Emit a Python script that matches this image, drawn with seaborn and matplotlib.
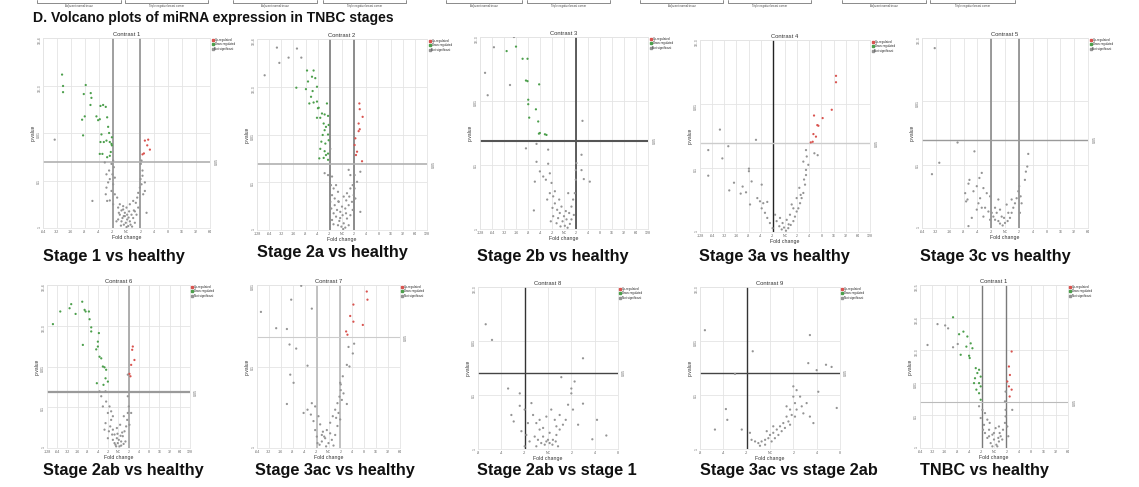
import matplotlib
matplotlib.use("Agg")
import matplotlib.pyplot as plt
from matplotlib.lines import Line2D
import seaborn as sns
import pandas as pd

sns.set_theme(style="white")
plt.rcParams['font.family'] = ['Liberation Sans', 'DejaVu Sans']

# ----- data: (log2-ish fold change position, -log10 p) -----
c1_down = [(-4.63, 3.23), (-4.56, 2.99), (-4.56, 2.86), (-2.93, 3.01), (-3.07, 2.82), (-2.57, 2.84),
           (-2.52, 2.74), (-2.59, 2.59), (-1.87, 2.57), (-1.68, 2.59), (-1.49, 2.55), (-3.0, 2.35),
           (-3.19, 2.28), (-2.16, 2.35), (-1.92, 2.29), (-2.04, 2.27), (-1.39, 2.33), (-1.32, 2.13),
           (-1.8, 1.97), (-1.25, 2.0), (-1.63, 1.81), (-1.87, 1.81), (-1.44, 1.84), (-1.2, 1.81),
           (-1.05, 1.91), (-1.08, 1.77), (-1.05, 1.74), (-1.39, 1.49), (-1.2, 1.52), (-1.13, 1.6),
           (-1.73, 1.56), (-1.92, 1.56), (-3.12, 1.95)]
c1_up = [(1.32, 1.84), (1.56, 1.86), (1.49, 1.74), (1.68, 1.65), (1.15, 1.55), (1.25, 1.57)]
c1_ns = [(-5.16, 1.86), (-0.96, 1.42), (-1.08, 1.35), (-0.91, 1.28), (-1.25, 1.21), (-1.01, 1.13),
         (-0.84, 1.06), (-1.2, 1.03), (-0.96, 0.92), (-1.44, 0.85), (-1.08, 0.78), (-0.84, 0.71),
         (-0.67, 0.64), (-1.2, 0.58), (-1.39, 0.57), (-2.45, 0.57), (-0.48, 0.5), (-0.6, 0.43),
         (-0.24, 0.46), (-0.36, 0.37), (0.0, 0.43), (0.24, 0.5), (0.48, 0.57), (0.67, 0.53),
         (0.77, 0.64), (0.84, 0.74), (0.96, 0.85), (1.08, 0.92), (1.01, 1.03), (1.15, 1.21),
         (1.03, 1.35), (1.08, 1.42), (1.2, 0.71), (1.32, 0.78), (1.44, 0.32), (-0.48, 0.28),
         (-0.29, 0.21), (-0.12, 0.25), (0.05, 0.18), (0.24, 0.14), (0.48, 0.21), (0.36, 0.28),
         (-0.05, 0.11), (0.12, 0.04), (-0.19, 0.07), (-0.36, 0.14), (-0.6, 0.18), (0.19, 0.35),
         (0.53, 0.37), (0.72, 0.28), (-0.12, 0.32), (0.29, 0.07), (0.6, 0.11), (0.05, 0.28),
         (-0.24, 0.39), (-0.72, 0.14), (0.84, 0.43), (-1.44, 1.13), (-1.56, 1.38), (-1.32, 0.96),
         (-1.49, 0.71), (-0.96, 0.5), (1.15, 1.1), (1.32, 0.96), (-0.4, 0.05), (0.0, 0.02),
         (0.4, 0.03), (-0.2, 0.25), (0.15, 0.22), (-0.55, 0.32), (0.6, 0.35)]

c2_down = [(-2.88, 3.34), (-2.34, 3.34), (-2.47, 3.21), (-2.2, 3.18), (-2.8, 3.11), (-2.06, 3.0),
           (-3.76, 2.98), (-2.97, 2.95), (-2.42, 2.91), (-2.55, 2.79), (-2.06, 2.69), (-2.34, 2.67),
           (-2.69, 2.65), (-1.92, 2.56), (-1.24, 2.65), (-1.98, 2.55), (-1.65, 2.44), (-2.06, 2.35),
           (-1.79, 2.35), (-1.43, 2.42), (-1.15, 2.39), (-1.51, 2.23), (-1.32, 2.16), (-1.1, 2.2),
           (-1.43, 2.09), (-1.15, 2.0), (-1.59, 1.99), (-1.7, 1.85), (-1.37, 1.81), (-1.1, 1.88),
           (-1.79, 1.7), (-1.43, 1.65), (-1.15, 1.6), (-1.87, 1.5), (-1.51, 1.51), (-1.15, 1.47),
           (-1.32, 1.57)]
c2_up = [(1.43, 2.65), (1.46, 2.53), (1.7, 2.37), (1.37, 2.23), (1.46, 2.11), (1.37, 2.07),
         (1.1, 1.92), (1.04, 1.78), (1.65, 1.44), (1.24, 1.64), (1.15, 1.57)]
c2_ns = [(-5.36, 3.82), (-3.71, 3.8), (-5.16, 3.5), (-4.4, 3.61), (-3.35, 3.61), (-6.37, 3.24),
         (-1.43, 1.19), (-1.15, 1.15), (-0.82, 1.12), (0.55, 1.26), (0.69, 1.15), (1.04, 1.15),
         (1.51, 1.22), (-0.91, 0.94), (-0.69, 0.87), (-0.49, 0.94), (-0.33, 0.8), (-0.82, 0.73),
         (-0.6, 0.66), (-0.27, 0.59), (0.14, 0.7), (0.41, 0.77), (0.69, 0.87), (0.88, 0.94),
         (0.96, 0.73), (0.82, 0.59), (0.55, 0.52), (0.27, 0.45), (0.0, 0.49), (-0.41, 0.42),
         (-0.69, 0.35), (-0.82, 0.21), (-0.49, 0.28), (-0.22, 0.19), (0.14, 0.14), (0.41, 0.24),
         (0.69, 0.31), (0.88, 0.42), (-0.05, 0.07), (0.27, 0.05), (-0.33, 0.1), (0.55, 0.1),
         (0.05, 0.31), (-0.14, 0.38), (0.33, 0.35), (0.6, 0.7), (-0.6, 0.52), (-0.96, 0.59),
         (-0.88, 0.45), (1.51, 0.38), (-0.96, 1.7), (-0.99, 1.43), (1.04, 0.87), (1.1, 0.66),
         (1.24, 1.01), (-0.7, 0.12), (0.1, 0.02), (-0.3, 0.6), (0.35, 0.62), (-0.15, 0.25)]

c3_down = [(-4.78, 2.78), (-4.0, 2.85), (-3.45, 2.66), (-3.04, 2.66), (-3.17, 2.32), (-3.04, 2.31),
           (-2.07, 2.26), (-2.98, 2.02), (-2.98, 1.95), (-2.34, 1.87), (-2.9, 1.74), (-2.15, 1.68),
           (-2.09, 1.49), (-2.01, 1.5), (-1.59, 1.48), (-1.46, 1.47)]
c3_up = []
c3_ns = [(-6.58, 2.44), (-5.84, 2.84), (-6.36, 2.09), (-4.5, 2.25), (-4.17, 3.0), (1.54, 1.69),
         (-3.17, 1.26), (-2.29, 1.33), (-1.32, 1.24), (-1.32, 1.02), (-2.01, 0.9), (-2.43, 0.74),
         (-2.29, 1.05), (-1.73, 0.82), (-1.51, 0.77), (-1.18, 0.87), (-1.04, 0.72), (-1.18, 0.56),
         (-1.4, 0.46), (-0.9, 0.51), (-0.76, 0.4), (-0.96, 0.33), (-0.57, 0.3), (-0.35, 0.25),
         (-0.21, 0.35), (0.0, 0.2), (0.21, 0.15), (0.43, 0.25), (0.62, 0.35), (0.76, 0.46),
         (0.9, 0.56), (0.98, 0.77), (0.98, 0.92), (1.04, 1.03), (1.46, 1.16), (1.46, 0.92),
         (1.65, 0.78), (2.15, 0.74), (0.35, 0.56), (-0.62, 0.09), (-0.29, 0.04), (0.07, 0.05),
         (-0.12, 0.12), (0.49, 0.08), (-0.49, 0.17), (-0.9, 0.2), (-2.51, 0.29), (0.62, 0.15),
         (0.82, 0.22), (0.15, 0.28), (-0.4, 0.46), (-0.76, 0.59), (-1.1, 0.12), (0.3, 0.02)]

c4_down = []
c4_up = [(2.39, 1.82), (3.1, 1.78), (2.66, 1.67), (2.75, 1.66), (2.34, 1.53), (2.55, 1.49),
         (2.12, 1.4), (2.28, 1.41), (4.2, 2.44), (4.2, 2.34), (3.85, 1.91)]
c4_ns = [(-5.36, 1.6), (-2.39, 1.44), (-6.32, 1.28), (-4.67, 1.34), (-5.16, 1.15), (-6.32, 0.88),
         (-2.97, 0.99), (-2.97, 0.95), (-4.2, 0.77), (-2.75, 0.79), (-4.59, 0.65), (-3.49, 0.71),
         (-3.65, 0.6), (-3.21, 0.62), (-2.88, 0.43), (-1.92, 0.74), (-2.28, 0.53), (-2.06, 0.48),
         (-1.79, 0.45), (-1.46, 0.47), (-1.92, 0.37), (-1.65, 0.3), (-1.46, 0.22), (-1.24, 0.14),
         (-1.02, 0.06), (-0.82, 0.27), (-0.69, 0.17), (-0.47, 0.09), (-0.27, 0.04), (-0.08, 0.07),
         (0.08, 0.02), (0.27, 0.06), (0.47, 0.11), (0.69, 0.17), (0.82, 0.24), (0.96, 0.32),
         (1.1, 0.37), (1.24, 0.45), (1.37, 0.53), (1.51, 0.61), (1.65, 0.74), (1.57, 0.82),
         (1.73, 0.89), (1.73, 0.97), (1.51, 1.1), (1.79, 1.18), (1.92, 1.05), (1.73, 1.28),
         (2.42, 1.23), (2.69, 1.2), (1.18, 0.69), (0.69, 0.37), (0.41, 0.27), (0.14, 0.19),
         (-0.41, 0.22), (0.96, 0.53), (1.29, 0.58), (0.55, 0.43), (0.3, 0.12), (-0.2, 0.14)]

c5_down = []
c5_up = []
c5_ns = [(-5.08, 2.84), (-3.43, 1.35), (-2.21, 1.21), (-4.75, 1.03), (-5.28, 0.85), (1.68, 1.17),
         (1.61, 0.97), (1.51, 0.89), (1.44, 0.76), (-1.68, 0.87), (-1.85, 0.79), (-2.57, 0.76),
         (-2.64, 0.7), (-2.88, 0.55), (-2.71, 0.45), (-2.81, 0.42), (-2.28, 0.58), (-2.04, 0.66),
         (-1.56, 0.63), (-1.32, 0.55), (-1.92, 0.39), (-1.68, 0.32), (-2.04, 0.29), (-1.44, 0.32),
         (-1.2, 0.26), (-0.96, 0.24), (-0.84, 0.18), (-0.72, 0.13), (-0.48, 0.11), (-0.36, 0.07),
         (-0.17, 0.04), (0.0, 0.08), (0.19, 0.11), (0.36, 0.16), (0.48, 0.24), (0.6, 0.32),
         (0.72, 0.39), (0.84, 0.47), (0.96, 0.58), (1.03, 0.66), (1.13, 0.5), (1.2, 0.39),
         (0.24, 0.24), (-0.24, 0.18), (-0.6, 0.24), (-1.08, 0.13), (-1.56, 0.18), (-2.4, 0.16),
         (-2.64, 0.03), (-0.72, 0.32), (0.48, 0.45), (0.12, 0.37), (-0.48, 0.45), (-1.08, 0.5),
         (1.08, 0.24), (-0.36, 0.29), (-0.07, 0.16), (-1.8, 0.47)]

c6_down = [(-6.42, 3.04), (-5.7, 3.35), (-4.79, 3.43), (-4.63, 3.53), (-3.55, 3.59), (-4.2, 3.29),
           (-3.32, 3.39), (-3.22, 3.35), (-2.9, 3.35), (-2.83, 3.16), (-2.67, 2.96), (-2.67, 2.86),
           (-3.49, 2.53), (-1.92, 2.82), (-2.02, 2.61), (-2.02, 2.49), (-2.18, 2.42), (-1.86, 2.24),
           (-1.69, 2.2), (-1.53, 2.0), (-1.37, 1.98), (-1.21, 1.92), (-1.27, 1.71), (-1.04, 1.63),
           (-1.47, 1.55), (-2.12, 1.59)]
c6_up = [(1.4, 2.49), (1.34, 2.41), (1.56, 2.16), (1.24, 2.04), (1.17, 1.76), (1.07, 1.82)]
c6_ns = [(0.91, 1.8), (-1.27, 1.39), (-1.69, 1.27), (-1.21, 1.14), (-0.88, 1.02), (-1.04, 0.86),
         (-1.27, 0.61), (-0.72, 0.69), (-0.81, 0.53), (-0.55, 0.45), (-0.39, 0.33), (-0.16, 0.24),
         (-0.07, 0.12), (0.1, 0.04), (0.26, 0.16), (0.42, 0.29), (0.59, 0.41), (0.75, 0.53),
         (0.85, 0.69), (0.91, 0.86), (1.01, 1.02), (0.91, 1.27), (1.24, 0.86), (1.07, 0.57),
         (-0.39, 0.12), (-0.23, 0.04), (0.26, 0.06), (0.03, 0.2), (-0.55, 0.2), (0.36, 0.38),
         (-0.62, 0.33), (-0.94, 0.41), (-1.37, 0.45), (-1.04, 0.24), (0.68, 0.16), (-0.16, 0.49),
         (0.16, 0.57), (0.52, 0.78), (-0.55, 0.78), (-0.72, 0.9), (-1.53, 1.02), (-1.86, 1.39),
         (-0.3, 0.08), (0.5, 0.1), (-0.1, 0.35), (0.2, 0.3)]

c7_down = []
c7_up = [(3.21, 1.92), (3.27, 1.82), (2.09, 1.76), (1.82, 1.62), (2.09, 1.55), (2.88, 1.51),
         (1.48, 1.43), (1.59, 1.39)]
c7_ns = [(-5.67, 1.67), (-4.39, 1.47), (-3.49, 1.46), (-3.13, 1.82), (-2.29, 1.99), (-1.4, 1.71),
         (1.68, 1.24), (2.15, 1.28), (2.04, 1.16), (1.54, 1.02), (1.76, 1.0), (1.54, 0.54),
         (-3.27, 1.27), (-2.71, 1.22), (-1.76, 1.01), (-3.21, 0.9), (-2.93, 0.8), (-3.49, 0.54),
         (0.98, 0.8), (1.03, 0.71), (0.92, 0.63), (0.75, 0.55), (0.56, 0.47), (0.36, 0.39),
         (0.14, 0.31), (-0.14, 0.22), (-0.36, 0.14), (-0.56, 0.08), (-0.75, 0.04), (-0.98, 0.14),
         (-1.12, 0.22), (-1.26, 0.33), (-1.48, 0.41), (-1.76, 0.47), (-2.09, 0.43), (-1.4, 0.55),
         (-1.12, 0.51), (-0.84, 0.39), (-0.7, 0.29), (-0.47, 0.2), (-0.28, 0.12), (0.0, 0.06),
         (0.28, 0.1), (0.56, 0.16), (0.75, 0.27), (0.98, 0.35), (0.84, 0.43), (0.64, 0.37),
         (0.14, 0.18), (-0.2, 0.02), (0.42, 0.03), (-0.56, 0.16), (-0.92, 0.06), (1.12, 0.59),
         (1.26, 0.67), (1.2, 0.88), (1.03, 0.78)]

c8_down = []
c8_up = []
c8_ns = [(-2.67, 2.31), (-2.4, 2.02), (1.5, 1.68), (-1.71, 1.12), (-1.21, 1.03), (0.57, 1.33),
         (1.0, 1.12), (1.14, 1.25), (1.0, 1.03), (1.5, 0.84), (2.1, 0.54), (2.5, 0.25),
         (1.9, 0.18), (1.29, 0.45), (-1.21, 0.8), (-1.57, 0.63), (-1.47, 0.51), (-1.0, 0.73),
         (-0.86, 0.48), (-1.14, 0.33), (-0.71, 0.85), (-0.64, 0.63), (-0.5, 0.48), (-0.36, 0.36),
         (-0.21, 0.23), (-0.07, 0.14), (0.07, 0.11), (0.21, 0.17), (0.36, 0.26), (0.5, 0.36),
         (0.64, 0.45), (0.76, 0.54), (0.5, 0.63), (0.29, 0.54), (0.14, 0.73), (-0.07, 0.6),
         (-0.29, 0.11), (-0.43, 0.17), (-0.57, 0.23), (-0.14, 0.08), (0.0, 0.17), (0.19, 0.08),
         (0.33, 0.14), (0.43, 0.05), (-0.5, 0.05), (-0.79, 0.14), (-0.21, 0.39), (0.86, 0.82),
         (1.07, 0.73), (0.36, 0.42), (0.07, 0.3), (-0.36, 0.54), (-1.0, 0.05), (-0.93, 0.26)]

c9_down = []
c9_up = []
c9_ns = [(-2.79, 2.2), (-0.74, 1.81), (1.71, 2.11), (1.64, 1.59), (2.0, 1.46), (2.4, 1.56),
         (2.64, 1.52), (-1.5, 1.39), (1.14, 1.09), (2.07, 1.06), (2.86, 0.76), (-1.89, 0.74),
         (-1.83, 0.54), (-2.36, 0.36), (-1.21, 0.36), (1.0, 0.97), (1.29, 0.97), (1.57, 0.85),
         (1.36, 0.79), (1.07, 0.85), (0.86, 0.73), (0.93, 0.63), (0.71, 0.6), (0.79, 0.51),
         (0.57, 0.48), (0.43, 0.42), (0.64, 0.39), (0.29, 0.36), (0.14, 0.3), (0.0, 0.26),
         (-0.07, 0.2), (-0.21, 0.17), (-0.36, 0.14), (-0.5, 0.11), (-0.64, 0.14), (-0.79, 0.17),
         (-0.43, 0.06), (-0.21, 0.08), (0.07, 0.14), (0.21, 0.2), (0.36, 0.26), (0.5, 0.33),
         (0.86, 0.45), (1.07, 0.6), (1.14, 0.73), (1.43, 0.66), (1.71, 0.6), (1.86, 0.48),
         (0.14, 0.42), (1.0, 1.16), (-0.14, 0.33), (-0.86, 0.3), (0.71, 0.79)]

c10_down = [(-3.32, 4.01), (-2.48, 3.57), (-2.83, 3.49), (-2.16, 3.42), (-1.89, 3.21), (-2.24, 3.11),
            (-2.7, 2.86), (-1.75, 3.06), (-2.02, 2.83), (-1.97, 2.76), (-1.48, 2.45), (-1.35, 2.3),
            (-1.21, 2.4), (-1.08, 2.19), (-1.54, 2.14), (-1.21, 1.99), (-1.43, 1.79), (-1.08, 1.89),
            (-1.21, 1.68), (-1.08, 1.48), (-1.62, 1.99)]
c10_up = [(1.43, 2.96), (1.21, 2.5), (1.29, 2.24), (1.21, 1.89), (1.43, 1.79), (1.27, 1.58),
          (1.08, 2.04)]
c10_ns = [(-4.58, 3.8), (-3.96, 3.76), (-3.72, 3.67), (-5.39, 3.16), (-3.32, 3.09), (-2.94, 3.19),
          (0.94, 1.73), (0.89, 1.43), (1.48, 1.17), (-0.94, 1.17), (-1.21, 1.28), (-0.73, 1.07),
          (-1.08, 0.92), (-0.81, 0.71), (-0.54, 0.87), (-0.4, 0.56), (-0.13, 0.41), (0.0, 0.26),
          (0.19, 0.1), (0.4, 0.2), (0.54, 0.36), (0.73, 0.56), (0.89, 0.77), (0.94, 0.97),
          (1.08, 0.66), (0.67, 0.26), (-0.27, 0.15), (-0.54, 0.31), (-0.73, 0.46), (-0.13, 0.05),
          (0.27, 0.05), (0.46, 0.46), (0.13, 0.61), (-0.35, 0.77), (-0.89, 0.56), (1.16, 0.36),
          (0.4, 0.66), (0.0, 0.46), (-0.4, 0.36), (0.94, 1.17), (0.35, 0.31)]

titles = ['Contrast 1', 'Contrast 2', 'Contrast 3', 'Contrast 4', 'Contrast 5',
          'Contrast 6', 'Contrast 7', 'Contrast 8', 'Contrast 9', 'Contrast 1']
captions = ['Stage 1 vs healthy', 'Stage 2a vs healthy', 'Stage 2b vs healthy',
            'Stage 3a vs healthy', 'Stage 3c vs healthy', 'Stage 2ab vs healthy',
            'Stage 3ac vs healthy', 'Stage 2ab vs stage 1', 'Stage 3ac vs stage 2ab',
            'TNBC vs healthy']
x_half = [6, 7, 7, 7, 6, 7, 6, 3, 3, 6]
y_max = [4, 4, 3, 3, 3, 4, 2, 3, 3, 5]
p_cut = [1.39, 1.38, 1.375, 1.39, 1.39, 1.37, 1.36, 1.41, 1.41, 1.41]
fc_lines = [[-1, 1], [-1, 1], [1], [-1], [-1, 1], [1], [-1, 1], [-1], [-1], [-1, 1]]
fold_labels = {3: ['-8', '-4', '-2', 'NC', '2', '4', '8'],
               6: ['-64', '-32', '-16', '-8', '-4', '-2', 'NC', '2', '4', '8', '16', '32', '64'],
               7: ['-128', '-64', '-32', '-16', '-8', '-4', '-2', 'NC', '2', '4', '8', '16', '32', '64', '128']}
p_labels = ['1', '0.1', '0.01', '1E-3', '1E-4', '1E-5']
legend_labels = ['Up-regulated', 'Down-regulated', 'Not significant']
group_labels = ['Adjacent normal tissue', 'Triple negative breast cancer']

points = [(c1_up, c1_down, c1_ns), (c2_up, c2_down, c2_ns), (c3_up, c3_down, c3_ns),
          (c4_up, c4_down, c4_ns), (c5_up, c5_down, c5_ns), (c6_up, c6_down, c6_ns),
          (c7_up, c7_down, c7_ns), (c8_up, c8_down, c8_ns), (c9_up, c9_down, c9_ns),
          (c10_up, c10_down, c10_ns)]

# ----- layout (pixels) and line styles -----
W, H = 1139, 487
boxes = [(43, 210, 38, 228), (257, 427, 39, 230), (480, 648, 37, 229), (700, 870, 40, 232),
         (922, 1088, 38, 228), (47, 190, 285, 448), (257, 400, 285, 448), (478, 618, 287, 449),
         (700, 840, 287, 449), (920, 1068, 285, 448)]
cap_pos = [(43, 256), (257, 253), (477, 256), (699, 256), (920, 256),
           (43, 471), (255, 471), (477, 471), (700, 471), (920, 471)]
v_style = [('#a0a0a0', 1.4), ('#8c8c8c', 1.4), ('#333333', 1.1), ('#222222', 1.0), ('#8a8a8a', 1.2),
           ('#a8a8a8', 1.3), ('#bdbdbd', 1.3), ('#333333', 1.0), ('#333333', 1.0), ('#7a7a7a', 1.0)]
h_style = [('#b0b0b0', 1.2), ('#b0b0b0', 1.2), ('#555555', 1.5), ('#cccccc', 1.0), ('#9a9a9a', 1.0),
           ('#9a9a9a', 1.6), ('#cccccc', 0.8), ('#444444', 1.0), ('#444444', 1.0), ('#bbbbbb', 0.8)]
brackets = [(37, 121), (125, 208), (233, 317), (323, 406), (446, 522), (527, 610),
            (640, 723), (728, 811), (842, 926), (930, 1015)]
colors = {'up': '#d9534f', 'down': '#4c9f4c', 'ns': '#949494'}

fig = plt.figure(figsize=(W / 100, H / 100), dpi=100)
fig.patch.set_facecolor('white')

for i in range(10):
    l, r, t, b = boxes[i]
    ax = fig.add_axes([l / W, 1 - b / H, (r - l) / W, (b - t) / H])
    up, down, ns = points[i]
    frames = []
    for kind, pts in (('ns', ns), ('down', down), ('up', up)):
        if pts:
            d = pd.DataFrame(pts, columns=['fc', 'p'])
            d['kind'] = kind
            frames.append(d)
    df = pd.concat(frames, ignore_index=True)

    xm, ym = x_half[i], y_max[i]
    ax.set_xlim(-xm, xm)
    ax.set_ylim(0, ym)
    ax.set_xticks(range(-xm, xm + 1))
    ax.set_xticklabels(fold_labels[xm])
    ax.set_yticks(range(0, ym + 1))
    ax.set_yticklabels(p_labels[:ym + 1])
    ax.grid(True, color='#e4e4e4', lw=0.6)
    ax.set_axisbelow(True)
    for s in ax.spines.values():
        s.set_color('#e4e4e4')
        s.set_linewidth(0.6)

    vc, vw = v_style[i]
    for xv in fc_lines[i]:
        ax.axvline(xv, color=vc, lw=vw, zorder=1)
    hc, hw = h_style[i]
    ax.axhline(p_cut[i], color=hc, lw=hw, zorder=1)

    sns.scatterplot(data=df, x='fc', y='p', hue='kind', palette=colors, s=2.6,
                    linewidth=0, legend=False, ax=ax, zorder=3)

    ax.tick_params(length=0, labelsize=2.6, pad=1.2, colors='#666666')
    ax.tick_params(axis='y', labelrotation=90)
    ax.set_xlabel('Fold change', fontsize=3.8, labelpad=1, color='#333333')
    ax.set_ylabel('p-value', fontsize=3.5, labelpad=1, color='#333333')
    ax.set_title(titles[i], fontsize=4.2, pad=1.5, color='#333333')
    ax.text(1.03, p_cut[i], '0.05', transform=ax.get_yaxis_transform(), rotation=90,
            fontsize=2.6, va='center', ha='left', color='#666666')
    handles = [Line2D([], [], marker='s', ls='', color=colors[k], markersize=2)
               for k in ('up', 'down', 'ns')]
    ax.legend(handles, legend_labels, loc='upper left', bbox_to_anchor=(1.01, 1.0),
              fontsize=2.2, frameon=False, handletextpad=0.3, borderpad=0,
              labelspacing=0.15, handlelength=0.6, borderaxespad=0)

    cx, cy = cap_pos[i]
    fig.text(cx / W, 1 - cy / H, captions[i], fontsize=11.7, fontweight='bold',
             va='center', ha='left', color='#111111')

fig.text(33 / W, 1 - 18 / H, 'D. Volcano plots of miRNA expression in TNBC stages',
         fontsize=10.1, fontweight='bold', va='center', ha='left', color='#111111')

# cropped group brackets from the panel above
for j, (x0, x1) in enumerate(brackets):
    fig.add_artist(Line2D([x0 / W, x0 / W, x1 / W, x1 / W], [1, 1 - 3 / H, 1 - 3 / H, 1],
                          transform=fig.transFigure, color='#777777', lw=0.6))
    fig.text((x0 + x1) / 2 / W, 1 - 6 / H, group_labels[j % 2], fontsize=2,
             ha='center', va='center', color='#444444')

fig.savefig('out.png', dpi=100, facecolor='white')
